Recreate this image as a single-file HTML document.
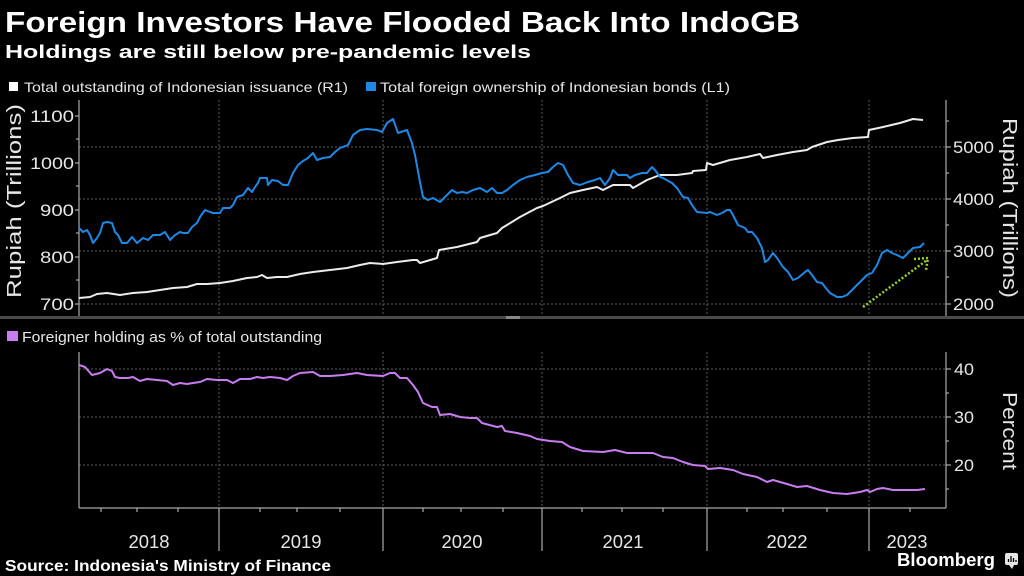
<!DOCTYPE html>
<html>
<head>
<meta charset="utf-8">
<style>
html,body{margin:0;padding:0;background:#000;}
svg{display:block;}
text{font-family:"Liberation Sans",Arial,sans-serif;}
</style>
</head>
<body>
<svg width="1024" height="576" viewBox="0 0 1024 576" xmlns="http://www.w3.org/2000/svg">
<rect width="1024" height="576" fill="#000"/>

<!-- Titles -->
<text x="5" y="32" font-size="29" font-weight="bold" fill="#fff" textLength="795" lengthAdjust="spacingAndGlyphs">Foreign Investors Have Flooded Back Into IndoGB</text>
<text x="5" y="58" font-size="18" font-weight="bold" fill="#fff" textLength="526" lengthAdjust="spacingAndGlyphs">Holdings are still below pre-pandemic levels</text>

<!-- Legend top -->
<rect x="9" y="82" width="9" height="9" fill="#fff"/>
<text x="24" y="92" font-size="14" fill="#e6e6e6" textLength="324" lengthAdjust="spacingAndGlyphs">Total outstanding of Indonesian issuance (R1)</text>
<rect x="366" y="82" width="10" height="9" fill="#1e88e5"/>
<text x="380" y="92" font-size="14" fill="#e6e6e6" textLength="350" lengthAdjust="spacingAndGlyphs">Total foreign ownership of Indonesian bonds (L1)</text>

<!-- Top panel gridlines -->
<g stroke="#5a5a5a" stroke-width="1" stroke-dasharray="2,2">
<line x1="79" y1="147" x2="946" y2="147"/>
<line x1="79" y1="199" x2="946" y2="199"/>
<line x1="79" y1="251" x2="946" y2="251"/>
<line x1="79" y1="304" x2="946" y2="304"/>
<line x1="219" y1="100" x2="219" y2="316"/>
<line x1="383" y1="100" x2="383" y2="316"/>
<line x1="542" y1="100" x2="542" y2="316"/>
<line x1="707" y1="100" x2="707" y2="316"/>
<line x1="869" y1="100" x2="869" y2="316"/>
</g>

<!-- Top axes -->
<g stroke="#aaa" stroke-width="1.2">
<line x1="79" y1="100" x2="79" y2="317"/>
<line x1="946" y1="100" x2="946" y2="317"/>
<!-- left ticks -->
<line x1="75" y1="116" x2="79" y2="116"/>
<line x1="75" y1="163" x2="79" y2="163"/>
<line x1="75" y1="210" x2="79" y2="210"/>
<line x1="75" y1="257" x2="79" y2="257"/>
<line x1="75" y1="304" x2="79" y2="304"/>
<line x1="76" y1="139" x2="79" y2="139"/>
<line x1="76" y1="186" x2="79" y2="186"/>
<line x1="76" y1="233" x2="79" y2="233"/>
<line x1="76" y1="280" x2="79" y2="280"/>
<!-- right ticks -->
<line x1="946" y1="147" x2="951" y2="147"/>
<line x1="946" y1="199" x2="951" y2="199"/>
<line x1="946" y1="251" x2="951" y2="251"/>
<line x1="946" y1="304" x2="951" y2="304"/>
<line x1="946" y1="121" x2="949" y2="121"/>
<line x1="946" y1="173" x2="949" y2="173"/>
<line x1="946" y1="225" x2="949" y2="225"/>
<line x1="946" y1="277" x2="949" y2="277"/>
</g>

<!-- Left labels -->
<g font-size="17" fill="#e6e6e6" text-anchor="end">
<text x="74" y="122" textLength="44" lengthAdjust="spacingAndGlyphs">1100</text>
<text x="74" y="169" textLength="44" lengthAdjust="spacingAndGlyphs">1000</text>
<text x="74" y="216" textLength="34" lengthAdjust="spacingAndGlyphs">900</text>
<text x="74" y="263" textLength="34" lengthAdjust="spacingAndGlyphs">800</text>
<text x="74" y="310" textLength="34" lengthAdjust="spacingAndGlyphs">700</text>
</g>
<!-- Right labels -->
<g font-size="17" fill="#e6e6e6">
<text x="953" y="153" textLength="41" lengthAdjust="spacingAndGlyphs">5000</text>
<text x="953" y="205" textLength="41" lengthAdjust="spacingAndGlyphs">4000</text>
<text x="953" y="257" textLength="41" lengthAdjust="spacingAndGlyphs">3000</text>
<text x="953" y="310" textLength="41" lengthAdjust="spacingAndGlyphs">2000</text>
</g>
<text transform="translate(21,298) rotate(-90)" font-size="20" fill="#e6e6e6" textLength="194" lengthAdjust="spacingAndGlyphs">Rupiah (Trillions)</text>
<text transform="translate(1003,118) rotate(90)" font-size="20" fill="#e6e6e6" textLength="180" lengthAdjust="spacingAndGlyphs">Rupiah (Trillions)</text>

<!-- White series -->
<polyline fill="none" stroke="#ececec" stroke-width="2" stroke-linejoin="round" points="79,298 90,297 97,294 107,293 120,295 133,293 147,292 160,290 173,288 187,287 197,284 207,284 220,283 233,281 247,278 257,277 262,275 267,278 277,277 287,277 300,274 313,272 330,270 347,268 360,265 370,263 383,264 397,262 413,260 417,260 420,263 437,258 439,250 457,247 477,242 480,238 497,233 502,228 507,225 520,217 537,208 543,206 560,198 570,193 583,190 597,187 603,190 613,185 620,185 630,185 633,188 647,180 660,175 677,175 692,173 693,171 706,170 707,163 713,165 730,160 747,157 760,154 763,158 777,155 793,152 807,150 812,147 827,142 838,140 853,138 868,137 869,130 883,127 900,123 913,119 923,120"/>

<!-- Blue series -->
<polyline fill="none" stroke="#1e88e5" stroke-width="2" stroke-linejoin="round" points="79,228 83,232 87,230 90,235 93,243 97,238 100,233 103,223 107,222 112,223 115,232 118,235 122,243 127,243 132,237 137,243 143,238 148,240 153,235 160,235 165,232 170,240 175,235 180,232 183,233 188,233 192,227 197,223 200,217 205,210 210,212 213,213 220,213 223,208 230,208 233,205 237,197 243,195 248,188 252,192 255,187 258,183 260,178 267,178 268,185 272,180 278,181 283,185 288,185 293,173 298,165 303,161 308,158 313,153 317,160 323,158 330,157 335,152 340,148 348,145 353,135 360,130 367,129 377,130 382,132 387,123 393,119 398,133 407,130 412,143 415,155 420,182 423,197 428,200 433,198 440,202 445,197 452,190 457,193 462,192 467,193 473,190 480,188 487,192 492,188 497,193 502,193 507,190 513,185 520,180 527,177 535,175 542,173 548,172 553,167 558,163 563,165 568,175 573,183 580,185 588,182 595,180 600,178 605,185 610,178 613,170 618,175 627,175 630,178 635,175 642,173 647,173 652,167 655,170 660,177 663,178 672,183 677,188 683,197 688,198 692,205 697,212 707,213 710,212 717,215 722,213 727,210 730,210 733,215 738,225 745,228 748,232 752,232 757,238 762,248 765,262 768,260 773,253 777,258 783,267 788,272 793,280 798,278 805,272 808,270 812,275 817,282 822,283 825,287 830,293 837,297 842,297 847,295 852,290 857,285 862,280 867,275 872,273 877,265 882,253 887,250 892,253 897,255 903,258 908,253 913,248 920,247 924,243"/>

<!-- Green dotted arrow -->
<g stroke="#9acd32" stroke-width="2.5" stroke-dasharray="2,2" fill="none">
<line x1="863" y1="307" x2="927" y2="260"/>
<polyline points="914,259 928,258 926,270"/>
</g>

<!-- Separator -->
<rect x="0" y="316" width="1024" height="3" fill="#4a4a4a"/>
<rect x="506" y="316" width="14" height="3" fill="#888"/>

<!-- Bottom legend -->
<rect x="7" y="331" width="11" height="10" fill="#c77df0"/>
<text x="22" y="342" font-size="14.5" fill="#e6e6e6" textLength="300" lengthAdjust="spacingAndGlyphs">Foreigner holding as % of total outstanding</text>

<!-- Bottom gridlines -->
<g stroke="#5a5a5a" stroke-width="1" stroke-dasharray="2,2">
<line x1="79" y1="369" x2="946" y2="369"/>
<line x1="79" y1="417" x2="946" y2="417"/>
<line x1="79" y1="465" x2="946" y2="465"/>
<line x1="219" y1="352" x2="219" y2="508"/>
<line x1="383" y1="352" x2="383" y2="508"/>
<line x1="542" y1="352" x2="542" y2="508"/>
<line x1="707" y1="352" x2="707" y2="508"/>
<line x1="869" y1="352" x2="869" y2="508"/>
</g>

<!-- Bottom axes -->
<g stroke="#aaa" stroke-width="1.2">
<line x1="79" y1="352" x2="79" y2="508"/>
<line x1="946" y1="352" x2="946" y2="508"/>
<line x1="79" y1="508" x2="946" y2="508"/>
<line x1="946" y1="369" x2="951" y2="369"/>
<line x1="946" y1="417" x2="951" y2="417"/>
<line x1="946" y1="465" x2="951" y2="465"/>
<line x1="946" y1="393" x2="949" y2="393"/>
<line x1="946" y1="441" x2="949" y2="441"/>
<line x1="946" y1="489" x2="949" y2="489"/>
<!-- year boundaries -->
<line x1="219" y1="508" x2="219" y2="551"/>
<line x1="383" y1="508" x2="383" y2="551"/>
<line x1="542" y1="508" x2="542" y2="551"/>
<line x1="707" y1="508" x2="707" y2="551"/>
<line x1="869" y1="508" x2="869" y2="551"/>
<!-- quarter ticks -->
<line x1="101" y1="508" x2="101" y2="512"/>
<line x1="137" y1="508" x2="137" y2="512"/>
<line x1="178" y1="508" x2="178" y2="512"/>
<line x1="260" y1="508" x2="260" y2="512"/>
<line x1="297" y1="508" x2="297" y2="512"/>
<line x1="340" y1="508" x2="340" y2="512"/>
<line x1="423" y1="508" x2="423" y2="512"/>
<line x1="461" y1="508" x2="461" y2="512"/>
<line x1="503" y1="508" x2="503" y2="512"/>
<line x1="582" y1="508" x2="582" y2="512"/>
<line x1="622" y1="508" x2="622" y2="512"/>
<line x1="663" y1="508" x2="663" y2="512"/>
<line x1="747" y1="508" x2="747" y2="512"/>
<line x1="783" y1="508" x2="783" y2="512"/>
<line x1="827" y1="508" x2="827" y2="512"/>
<line x1="910" y1="508" x2="910" y2="512"/>
</g>

<g font-size="17" fill="#e6e6e6">
<text x="954" y="375" textLength="20" lengthAdjust="spacingAndGlyphs">40</text>
<text x="954" y="423" textLength="20" lengthAdjust="spacingAndGlyphs">30</text>
<text x="954" y="471" textLength="20" lengthAdjust="spacingAndGlyphs">20</text>
</g>
<text transform="translate(1003,392) rotate(90)" font-size="20" fill="#e6e6e6" textLength="78" lengthAdjust="spacingAndGlyphs">Percent</text>

<!-- Purple series -->
<polyline fill="none" stroke="#c77df0" stroke-width="2" stroke-linejoin="round" points="79,365 85,367 92,375 100,373 107,369 112,371 115,377 120,378 128,378 133,377 140,381 147,379 157,380 167,381 173,385 180,383 187,384 193,383 200,382 207,379 217,380 227,380 233,383 240,379 250,379 257,377 263,378 270,377 280,378 287,380 293,376 300,373 313,372 320,376 330,376 343,375 357,373 367,375 383,376 390,373 395,373 400,378 407,378 413,385 418,392 423,403 432,407 437,407 440,415 450,414 460,417 470,418 477,418 482,423 497,427 502,426 505,431 517,433 530,436 537,439 550,441 562,442 570,447 583,451 603,452 615,450 627,453 640,453 653,453 663,457 673,458 683,462 693,465 705,466 708,469 720,468 733,470 743,474 757,477 767,482 773,480 787,484 797,487 807,486 820,490 833,493 847,494 860,492 867,490 870,492 877,489 883,488 893,490 907,490 917,490 925,489"/>

<!-- Year labels -->
<g font-size="18" fill="#e6e6e6" text-anchor="middle">
<text x="149" y="548" textLength="41" lengthAdjust="spacingAndGlyphs">2018</text>
<text x="301" y="548" textLength="41" lengthAdjust="spacingAndGlyphs">2019</text>
<text x="462" y="548" textLength="41" lengthAdjust="spacingAndGlyphs">2020</text>
<text x="623" y="548" textLength="41" lengthAdjust="spacingAndGlyphs">2021</text>
<text x="787" y="548" textLength="41" lengthAdjust="spacingAndGlyphs">2022</text>
<text x="907" y="548" textLength="41" lengthAdjust="spacingAndGlyphs">2023</text>
</g>

<!-- Footer -->
<text x="5" y="571" font-size="16" font-weight="bold" fill="#fff" textLength="326" lengthAdjust="spacingAndGlyphs">Source: Indonesia's Ministry of Finance</text>
<text x="897" y="566" font-size="18" font-weight="bold" fill="#fff" textLength="98" lengthAdjust="spacingAndGlyphs">Bloomberg</text>
<rect x="1005" y="553" width="13" height="12" rx="2" fill="#e6e6e6"/>
<polygon points="1009,565 1012,569 1014,565" fill="#e6e6e6"/>
<g stroke="#000" stroke-width="1.3">
<line x1="1008.5" y1="562" x2="1008.5" y2="559"/>
<line x1="1011" y1="562" x2="1011" y2="556"/>
<line x1="1013.5" y1="562" x2="1013.5" y2="558"/>
<line x1="1016" y1="562" x2="1016" y2="560"/>
</g>
</svg>
</body>
</html>
